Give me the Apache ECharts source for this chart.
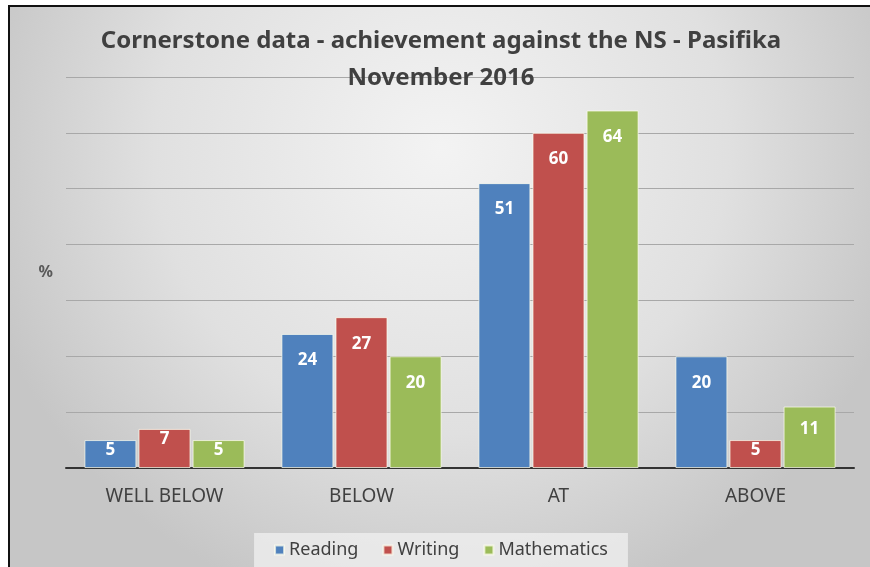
<!DOCTYPE html>
<html>
<head>
<meta charset="utf-8">
<script src="https://cdn.jsdelivr.net/npm/echarts@6/dist/echarts.min.js"></script>
<style>
  html, body { margin: 0; padding: 0; background: #fff; }
  #frame {
    position: absolute; left: 8px; top: 5px;
    width: 862px; height: 562px;
    border-left: 2px solid #111; border-top: 2px solid #111;
  }
  #chart { width: 862px; height: 562px; }
</style>
</head>
<body>
<div id="frame"><div id="chart"></div></div>
<script>
// categories and values
const categories = ['WELL BELOW', 'BELOW', 'AT', 'ABOVE']
const reading = [5, 24, 51, 20]
const writing = [7, 27, 60, 5]
const mathematics = [5, 20, 64, 11]

const colors = ['#4f81bd', '#c0504d', '#9bbb59']
const font = 'Noto Sans'

// bar series settings
const barSeries = (name, data, color) => {
    return {
        name: name,
        type: 'bar',
        // short bars get their label pushed up, like excel does
        data: data.map(v => ({ value: v, label: { distance: v < 10 ? 2 : (v < 15 ? 14 : 18) } })),
        barWidth: 52,
        barGap: '4%',
        itemStyle: {
            color: color,
            borderColor: 'rgba(255,255,240,0.7)',
            borderWidth: 1
        },
        label: {
            show: true,
            position: 'insideTop',
            color: '#fff',
            fontFamily: font,
            fontWeight: 'bold',
            fontSize: 17
        }
    }
}

const chart = echarts.init(document.getElementById('chart'))
chart.setOption({
    backgroundColor: {
        type: 'radial', x: 0.5, y: 0.25, r: 0.85,
        colorStops: [
            { offset: 0, color: '#f3f3f3' },
            { offset: 0.6, color: '#e0e0e0' },
            { offset: 1, color: '#c6c6c6' }
        ]
    },
    color: colors,
    title: {
        text: 'Cornerstone data - achievement against the NS - Pasifika\nNovember 2016',
        left: 'center',
        top: 11,
        textStyle: {
            fontFamily: font,
            fontWeight: 'bold',
            fontSize: 24,
            color: '#404040',
            lineHeight: 37
        }
    },
    legend: {
        bottom: 2,
        left: 'center',
        itemWidth: 9,
        itemHeight: 9,
        itemGap: 24,
        padding: [8, 20],
        backgroundColor: 'rgba(240,240,240,0.75)',
        icon: 'rect',
        textStyle: { fontFamily: font, fontSize: 18, color: '#404040' },
        data: ['Reading', 'Writing', 'Mathematics']
    },
    grid: { left: 56, right: 18, top: 70, bottom: 101 },
    xAxis: {
        type: 'category',
        data: categories,
        axisTick: { show: false },
        axisLine: { lineStyle: { color: '#333', width: 2 } },
        axisLabel: { fontFamily: font, fontSize: 19, color: '#404040', margin: 19 }
    },
    yAxis: {
        type: 'value',
        min: 0,
        max: 70,
        interval: 10,
        name: '%',
        nameLocation: 'middle',
        nameRotate: 0,
        nameGap: 13,
        nameTextStyle: { fontFamily: font, fontSize: 16, fontWeight: 'bold', color: '#595959' },
        axisLabel: { show: false },
        axisLine: { show: false },
        axisTick: { show: false },
        splitLine: { lineStyle: { color: '#a8a8a8', width: 1 } }
    },
    series: [
        barSeries('Reading', reading, colors[0]),
        barSeries('Writing', writing, colors[1]),
        barSeries('Mathematics', mathematics, colors[2])
    ]
})
</script>
</body>
</html>
